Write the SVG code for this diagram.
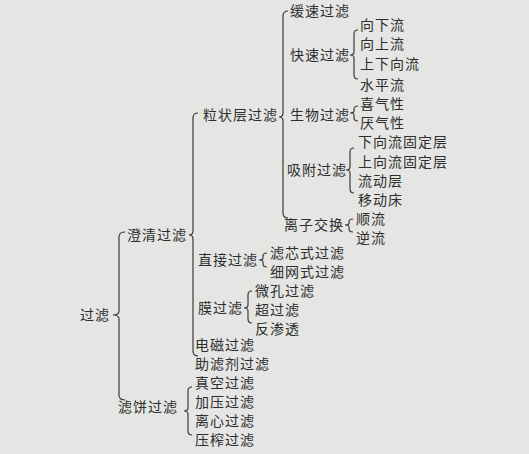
<svg xmlns="http://www.w3.org/2000/svg" width="529" height="454" viewBox="0 0 529 454">
<style>
text{font-family:"Noto Sans CJK SC","Noto Sans CJK JP",sans-serif;font-size:14px;letter-spacing:1px;fill:#2e2e2e}
.b{fill:none;stroke:#3a3a3a;stroke-width:1.2}
</style>
<rect width="529" height="454" fill="#e5e5e3"/>
<g id="connectors">
<path class="b" d="M125,232 Q119,232 119,237 V311 Q119,315 113,315 Q119,315 119,319 V395 Q119,400 125,400"/>
<path class="b" d="M198,113 Q193,113 193,118 V231 Q193,235 189,235 Q193,235 193,239 V351 Q193,356 198,356"/>
<path class="b" d="M288,11 Q283,11 283,16 V113 Q283,117 279,117 Q283,117 283,121 V213 Q283,218 288,218"/>
<path class="b" d="M358,30 Q354,30 354,34 V52 Q354,55 350,55 Q354,55 354,58 V75 Q354,79 358,79"/>
<path class="b" d="M358,106 Q354,106 354,109 V111 Q354,113 350,113 Q354,113 354,115 V118 Q354,121 358,121"/>
<path class="b" d="M354,148 Q350,148 350,152 V167 Q350,170 346,170 Q350,170 350,173 V189 Q350,193 354,193"/>
<path class="b" d="M353,219 Q349,219 349,222 V223 Q349,225 345,225 Q349,225 349,227 V229 Q349,232 353,232"/>
<path class="b" d="M267,253 Q263,253 263,256 V258 Q263,260 259,260 Q263,260 263,262 V264 Q263,267 267,267"/>
<path class="b" d="M252,291 Q248,291 248,295 V305 Q248,308 244,308 Q248,308 248,311 V319 Q248,323 252,323"/>
<path class="b" d="M192,387 Q188,387 188,391 V408 Q188,411 184,411 Q188,411 188,414 V431 Q188,435 192,435"/>
</g>
<g id="n-guolv"><text x="80" y="320">过滤</text></g>
<g id="n-chengqing"><text x="127" y="240">澄清过滤</text></g>
<g id="n-lizhuang"><text x="203" y="120">粒状层过滤</text></g>
<g id="n-huansu"><text x="290" y="16">缓速过滤</text></g>
<g id="n-kuaisu"><text x="290" y="60">快速过滤</text></g>
<g id="n-xiangxia"><text x="360" y="30">向下流</text></g>
<g id="n-xiangshang"><text x="360" y="49">向上流</text></g>
<g id="n-shangxia"><text x="360" y="69">上下向流</text></g>
<g id="n-shuiping"><text x="360" y="90">水平流</text></g>
<g id="n-shengwu"><text x="290" y="120">生物过滤</text></g>
<g id="n-xiqi"><text x="360" y="109">喜气性</text></g>
<g id="n-yanqi"><text x="360" y="128">厌气性</text></g>
<g id="n-xifu"><text x="287" y="175">吸附过滤</text></g>
<g id="n-xxgd"><text x="358" y="147">下向流固定层</text></g>
<g id="n-sxgd"><text x="358" y="167">上向流固定层</text></g>
<g id="n-liudong"><text x="358" y="186">流动层</text></g>
<g id="n-yidong"><text x="358" y="205">移动床</text></g>
<g id="n-lizi"><text x="284" y="230">离子交换</text></g>
<g id="n-shunliu"><text x="356" y="224">顺流</text></g>
<g id="n-niliu"><text x="356" y="243">逆流</text></g>
<g id="n-zhijie"><text x="198" y="265">直接过滤</text></g>
<g id="n-lvxin"><text x="270" y="258">滤芯式过滤</text></g>
<g id="n-xiwang"><text x="270" y="277">细网式过滤</text></g>
<g id="n-mo"><text x="198" y="313">膜过滤</text></g>
<g id="n-weikong"><text x="255" y="296">微孔过滤</text></g>
<g id="n-chao"><text x="255" y="315">超过滤</text></g>
<g id="n-fanshen"><text x="255" y="334">反渗透</text></g>
<g id="n-dianci"><text x="195" y="350">电磁过滤</text></g>
<g id="n-zhulvji"><text x="195" y="369">助滤剂过滤</text></g>
<g id="n-lvbing"><text x="118" y="412">滤饼过滤</text></g>
<g id="n-zhenkong"><text x="195" y="388">真空过滤</text></g>
<g id="n-jiaya"><text x="195" y="407">加压过滤</text></g>
<g id="n-lixin"><text x="195" y="426">离心过滤</text></g>
<g id="n-yazha"><text x="195" y="445">压榨过滤</text></g>
</svg>
